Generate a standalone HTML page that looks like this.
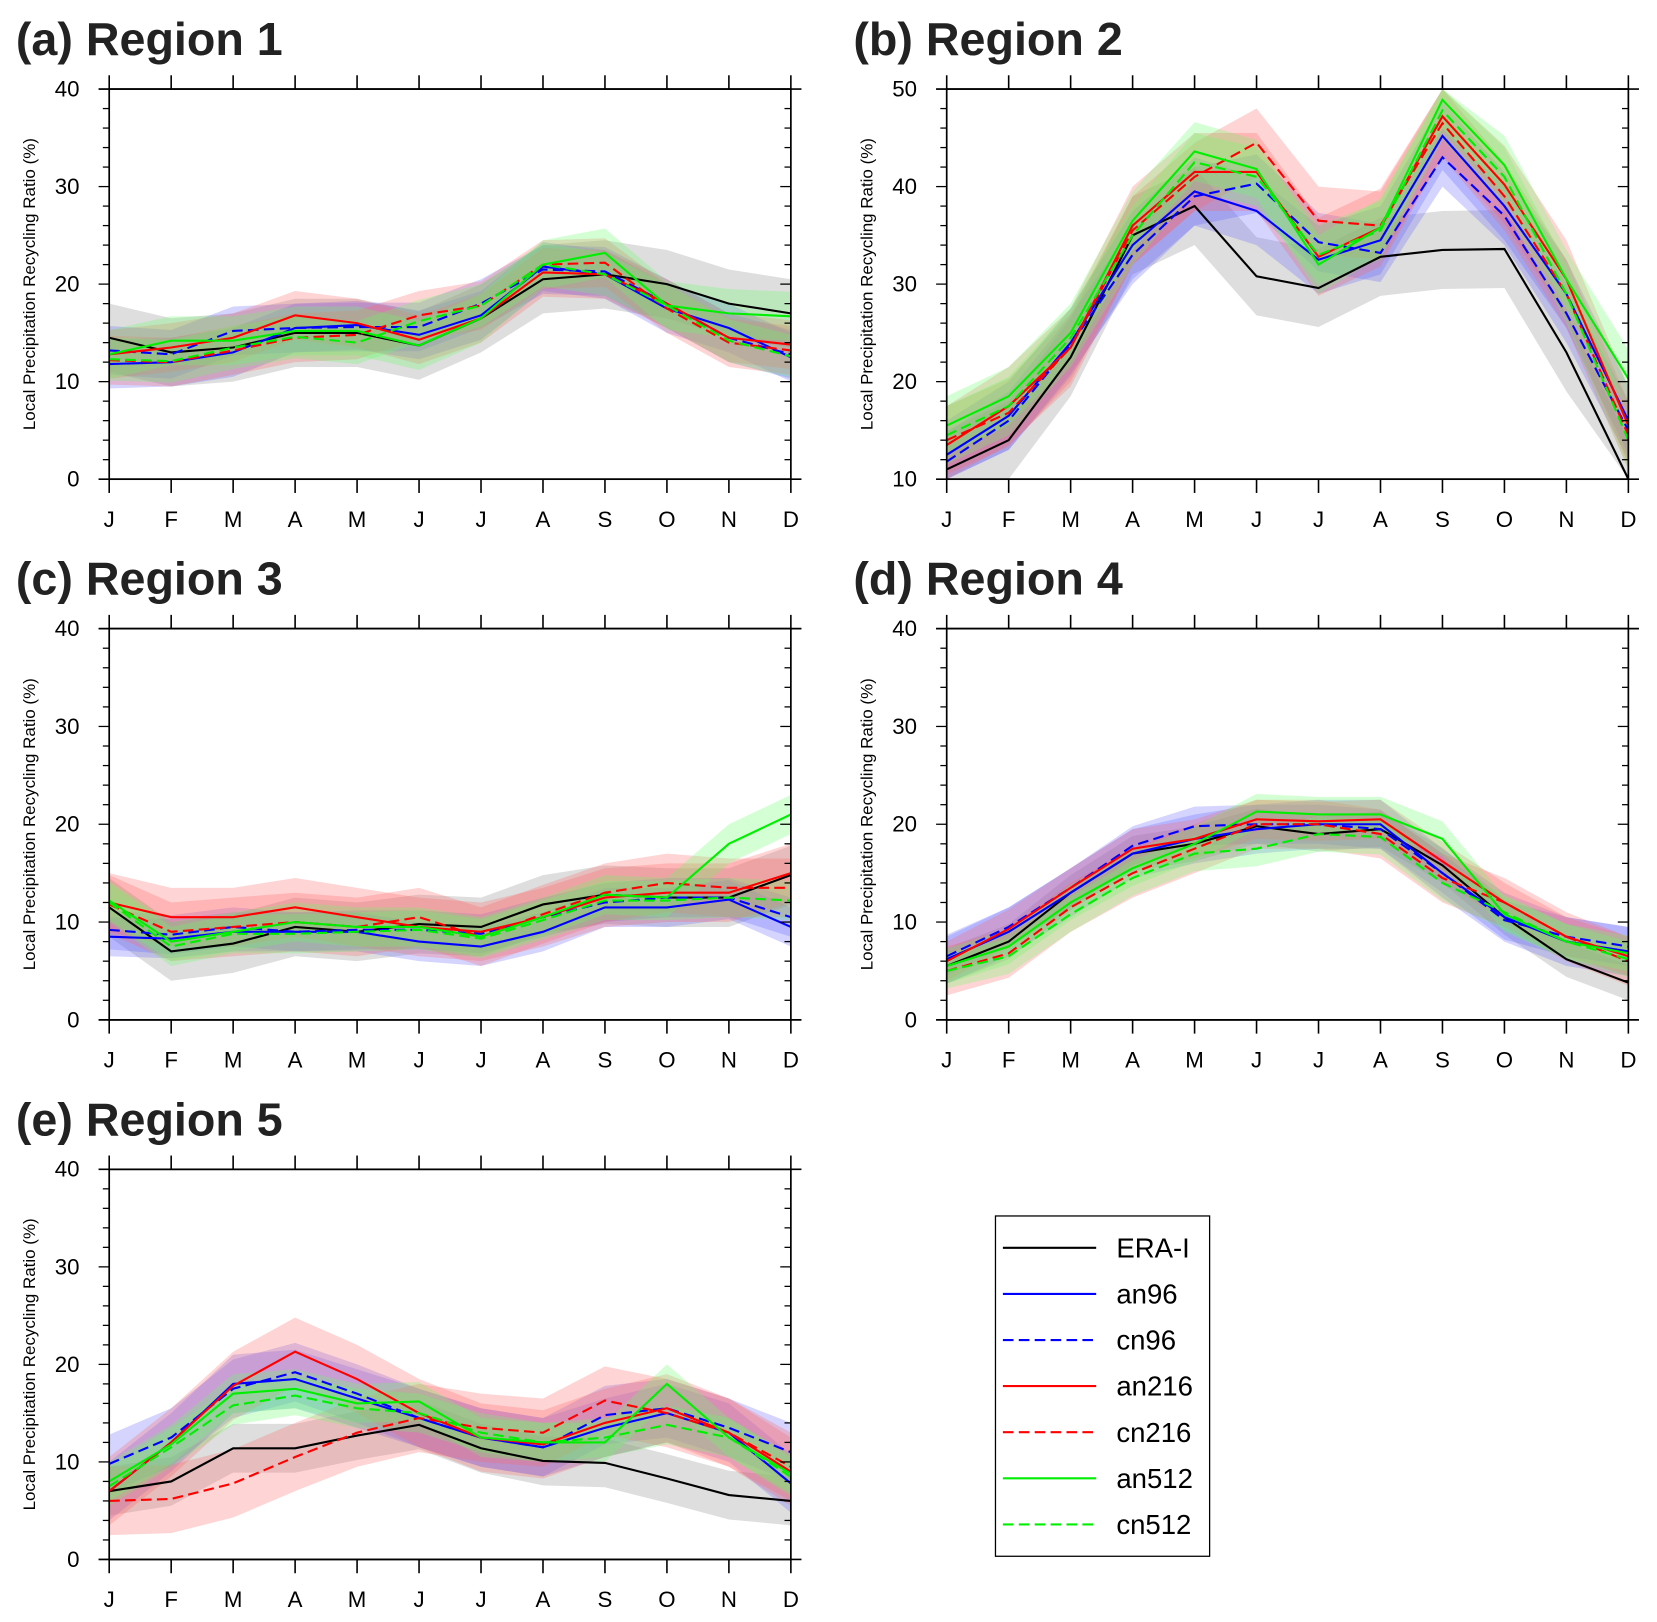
<!DOCTYPE html>
<html><head><meta charset="utf-8"><style>
html,body{margin:0;padding:0;background:#fff;}
svg{display:block;}
text{font-family:"Liberation Sans Narrow","Liberation Sans",sans-serif;}
</style></head><body>
<svg id="fig" width="1657" height="1622" viewBox="0 0 1563 1530" xmlns="http://www.w3.org/2000/svg"></svg>
<script>
const months = ["J","F","M","A","M","J","J","A","S","O","N","D"];
const seriesNames = ["ERA-I","an96","cn96","an216","cn216","an512","cn512"];
const seriesColors = ["#000000","#0000ff","#0000ff","#ff0000","#ff0000","#00ee00","#00ee00"];
const seriesDashed = [false,false,true,false,true,false,true];
const bandColors = ["#888888","#6666ff","#6666ff","#ff6666","#ff6666","#66ff66","#66ff66"];

const r1_era = [14.5,13,13.5,15,15,13.7,16.5,20.5,21,20,18,17];
const r1_an96 = [11.8,12,13,15.5,15.8,14.8,16.8,21.8,21,17.5,15.5,12.5];
const r1_cn96 = [13.2,12.8,15.2,15.5,15.6,15.6,18,21.5,21.3,18,14.5,12.8];
const r1_an216 = [12.8,13.5,14.5,16.8,16,14.3,16.5,21.2,21,18,14.5,13.8];
const r1_cn216 = [12.2,12,13.2,14.5,14.8,16.8,17.8,22,22.2,17.5,14,13.2];
const r1_an512 = [12.8,14.2,14.2,15.2,15.2,13.7,16.5,22,23.2,17.8,17,16.7];
const r1_cn512 = [12.3,12.1,13.5,14.6,14,16.2,17.8,22,21,17.8,14.2,12.6];
const r1_spread = [3.5,2.5,2.5,2.5,2.5,2.5,2.2];

const r2_era = [11,14,22.5,35,38,30.8,29.6,32.8,33.5,33.6,23,10];
const r2_an96 = [12.5,16.5,24,34,39.5,37.5,32.5,34.5,45.2,38,29,16];
const r2_cn96 = [11.8,16,23.8,33,39,40.3,34.3,33.2,43,37,27,15];
const r2_an216 = [13.5,17.5,23.5,36,41.5,41.5,32.8,35.8,47.2,40.2,30.5,15.5];
const r2_cn216 = [14,16.8,23.5,35.5,41,44.5,36.5,36,46.5,39,29,14.5];
const r2_an512 = [15.5,18.5,25,36.5,43.6,41.8,32,35.8,48.9,42.2,30.5,20.3];
const r2_cn512 = [14.5,17.5,24.5,35,42.5,41,33,35.5,47.8,41,29,14];
const r2_spread = [4,3.5,3,4,3.5,3,3];

const r3_era = [11.5,7,7.8,9.5,9,9.8,9.5,11.8,12.8,12.5,12.5,14.8];
const r3_an96 = [8.5,8.3,9,9,9,8,7.5,9,11.5,11.5,12.3,9.5];
const r3_cn96 = [9.2,8.7,9.5,9,9.2,9.2,8.8,10.5,12,12.5,12.5,10.5];
const r3_an216 = [12,10.5,10.5,11.5,10.5,9.5,9,10.5,12.5,13,13,15];
const r3_cn216 = [11.8,9,9.5,10,9.5,10.5,8.5,10.8,13,14,13.5,13.5];
const r3_an512 = [12.2,8,9,10,9.5,9.5,8.5,10.5,12.8,12.5,18,21];
const r3_cn512 = [12,7.5,8.8,8.8,9,9.2,8.3,10.2,12.2,12.2,12.5,12.2];
const r3_spread = [3,2,2,3,3,2,2];

const r4_era = [5.5,8,13,17,18,19.8,19,19.5,15.8,10.5,6.2,3.8];
const r4_an96 = [6.2,9,13,17,18.5,19.5,20,20,15,10.5,8,7];
const r4_cn96 = [6.5,9.5,13.5,17.8,19.8,20,20,19.5,15,10.2,8.5,7.5];
const r4_an216 = [6,9.3,13.5,17.5,18.5,20.5,20.3,20.5,16.2,12,8.5,6.5];
const r4_cn216 = [5,6.8,11.5,15,17.5,20,20,19,14.5,12,8.5,6];
const r4_an512 = [5.5,7.5,12,15.5,18,21.3,21,21,18.5,10.8,8,6.8];
const r4_cn512 = [5,6.5,10.8,14.5,17,17.5,19,18.7,14,11,8,6.2];
const r4_spread = [1.8,2.5,2,2,2.5,1.8,1.8];

const r5_era = [7,8,11.4,11.4,12.7,13.8,11.4,10.1,9.9,8.3,6.6,6];
const r5_an96 = [7,12,18,18.5,16.5,14.5,12.5,11.5,13.5,15,13,7.8];
const r5_cn96 = [9.8,12.5,17.5,19.2,17,14.5,12.5,11.5,14.8,15.5,13.5,11];
const r5_an216 = [7,12,17.8,21.3,18.5,15,12.5,11.8,14,15.5,13,9];
const r5_cn216 = [6,6.2,7.8,10.5,13,14.5,13.5,13,16.3,15,13,9.5];
const r5_an512 = [8,11.8,17,17.5,16,16.2,12.5,12,12,18,12.5,8.8];
const r5_cn512 = [7.5,11.5,15.8,16.8,15.5,15,13,12,12.5,13.8,12.5,8.5];
const r5_spread = [2.5,3,3,3.5,3.5,2,2];

const yTicks1 = [0,10,20,30,40];
const yTicks2 = [10,20,30,40,50];

const NS = "http://www.w3.org/2000/svg";
const svg = document.getElementById("fig");
function mk(tag, attrs, parent){
  const e = document.createElementNS(NS, tag);
  for (const k in attrs) e.setAttribute(k, attrs[k]);
  (parent||svg).appendChild(e);
  return e;
}

const panels = [
  {id:"a", title:"(a)  Region 1", x0:103, x1:746, yT:84, yB:452, min:0, max:40, ticks:yTicks1, data:[r1_era,r1_an96,r1_cn96,r1_an216,r1_cn216,r1_an512,r1_cn512], spread:r1_spread},
  {id:"b", title:"(b)  Region 2", x0:893, x1:1536, yT:84, yB:452, min:10, max:50, ticks:yTicks2, data:[r2_era,r2_an96,r2_cn96,r2_an216,r2_cn216,r2_an512,r2_cn512], spread:r2_spread},
  {id:"c", title:"(c)  Region 3", x0:103, x1:746, yT:593, yB:962, min:0, max:40, ticks:yTicks1, data:[r3_era,r3_an96,r3_cn96,r3_an216,r3_cn216,r3_an512,r3_cn512], spread:r3_spread},
  {id:"d", title:"(d)  Region 4", x0:893, x1:1536, yT:593, yB:962, min:0, max:40, ticks:yTicks1, data:[r4_era,r4_an96,r4_cn96,r4_an216,r4_cn216,r4_an512,r4_cn512], spread:r4_spread},
  {id:"e", title:"(e)  Region 5", x0:103, x1:746, yT:1103, yB:1471, min:0, max:40, ticks:yTicks1, data:[r5_era,r5_an96,r5_cn96,r5_an216,r5_cn216,r5_an512,r5_cn512], spread:r5_spread}
];

panels.forEach(p => {
  const g = mk("g", {});
  
  
  const xs = i => p.x0 + (p.x1 - p.x0) * i / 11;
  const ys = v => p.yB - (p.yB - p.yT) * (Math.max(p.min, Math.min(p.max, v)) - p.min) / (p.max - p.min);

  const t = mk("text", {x:p.x0-88, y:p.yT-32, "font-size":44, "font-weight":"bold", fill:"#222"}, g);
  t.textContent = p.title;
  
  

  const clip = mk("clipPath", {id:"clip"+p.id}, g);
  mk("rect", {x:p.x0, y:p.yT, width:p.x1-p.x0, height:p.yB-p.yT}, clip);
  const plot = mk("g", {"clip-path":"url(#clip"+p.id+")"}, g);

  p.data.forEach((arr, si) => {
    const s = p.spread[si];
    let d = "";
    arr.forEach((v,i)=>{ d += (i?"L":"M") + xs(i) + "," + ys(v+s); });
    for (let i=arr.length-1;i>=0;i--) d += "L" + xs(i) + "," + ys(arr[i]-s);
    const b = mk("path", {d:d+"Z", fill:bandColors[si], "fill-opacity":0.28, stroke:"none"}, plot);
    
    
  });
  p.data.forEach((arr, si) => {
    const pts = arr.map((v,i)=> xs(i)+","+ys(v)).join(" ");
    const l = mk("polyline", {points:pts, fill:"none", stroke:seriesColors[si], "stroke-width":2, "stroke-dasharray": seriesDashed[si] ? "10,5" : "none"}, plot);
    
    
  });

  mk("rect", {x:p.x0, y:p.yT, width:p.x1-p.x0, height:p.yB-p.yT, fill:"none", stroke:"#000", "stroke-width":1.6}, g);
  mk("line", {x1:p.x0-10, x2:p.x1+10, y1:p.yT, y2:p.yT, stroke:"#000", "stroke-width":1.6}, g);
  mk("line", {x1:p.x0-10, x2:p.x1+10, y1:p.yB, y2:p.yB, stroke:"#000", "stroke-width":1.6}, g);

  months.forEach((m,i)=>{
    const x = xs(i);
    mk("line", {x1:x, x2:x, y1:p.yB, y2:p.yB+13, stroke:"#000", "stroke-width":1.5}, g);
    mk("line", {x1:x, x2:x, y1:p.yT, y2:p.yT-13, stroke:"#000", "stroke-width":1.5}, g);
    const tl = mk("text", {x:x, y:p.yB+45, "font-size":21, "text-anchor":"middle", fill:"#000"}, g);
    tl.textContent = m;
    
    
  });
  const step = (p.ticks[1]-p.ticks[0]);
  for (let v=p.min; v<=p.max+0.01; v+=step/5){
    const y = ys(v);
    const r = Math.abs((v-p.min)%step);
    const major = r < 0.01 || Math.abs(r - step) < 0.01;
    const len = major ? 10 : 6;
    mk("line", {x1:p.x0-len, x2:p.x0, y1:y, y2:y, stroke:"#000", "stroke-width":1.2}, g);
    mk("line", {x1:p.x1, x2:p.x1-len, y1:y, y2:y, stroke:"#000", "stroke-width":1.2}, g);
  }
  p.ticks.forEach(v=>{
    const yl = mk("text", {x:p.x0-28, y:ys(v)+7, "font-size":21, "text-anchor":"end", fill:"#000"}, g);
    yl.textContent = v;
    
    
  });
  const cy = (p.yT+p.yB)/2;
  const yt = mk("text", {x:0, y:0, transform:"translate("+(p.x0-70)+","+cy+") rotate(-90)", "font-size":16, "text-anchor":"middle", fill:"#000", style:"font-family:'Liberation Sans',sans-serif"}, g);
  yt.textContent = "Local Precipitation Recycling Ratio (%)";
  
  
});

const lg = mk("g", {});


mk("rect", {x:939, y:1147, width:202, height:321, fill:"#fff", stroke:"#000", "stroke-width":1.2}, lg);
seriesNames.forEach((n,i)=>{
  const y = 1177 + i*43.5;
  const e = mk("g", {}, lg);
  
  
  mk("line", {x1:946, x2:1034, y1:y, y2:y, stroke:seriesColors[i], "stroke-width":2, "stroke-dasharray": seriesDashed[i] ? "10,5" : "none"}, e);
  const tx = mk("text", {x:1053, y:y+9, "font-size":26, fill:"#000", style:"font-family:'Liberation Sans',sans-serif"}, e);
  tx.textContent = n;
});
</script>
</body></html>
